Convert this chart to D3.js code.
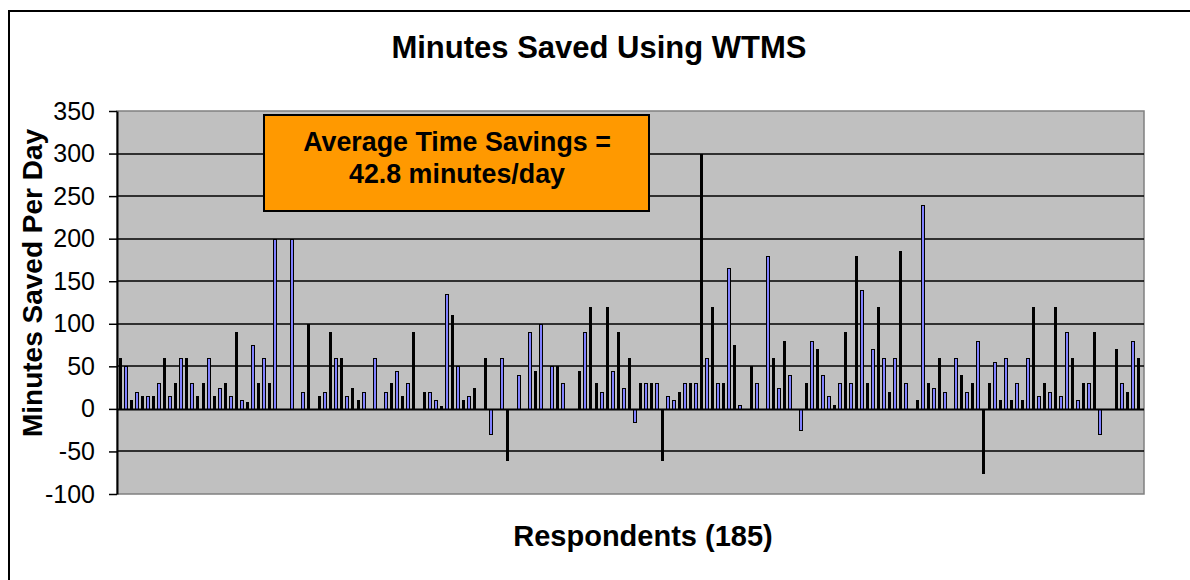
<!DOCTYPE html>
<html>
<head>
<meta charset="utf-8">
<script src="https://cdn.jsdelivr.net/npm/d3@7/dist/d3.min.js"></script>
<style>
  html, body { margin: 0; padding: 0; background: #fff; }
  svg { display: block; font-family: "Liberation Sans", Arial, sans-serif; }
</style>
</head>
<body>
<svg id="chart" width="1190" height="580"></svg>
<script>
// ---- data ----
const chartTitle = "Minutes Saved Using WTMS";
const yAxisTitle = "Minutes Saved Per Day";
const xAxisTitle = "Respondents (185)";
const noteLines = ["Average Time Savings =", "42.8 minutes/day"];
const yTicks = [-100, -50, 0, 50, 100, 150, 200, 250, 300, 350];
const minutesSaved = [
  60, 50, 10, 20, 15, 15, 15, 30, 60, 15,
  30, 60, 60, 30, 15, 30, 60, 15, 25, 30,
  15, 90, 10, 8, 75, 30, 60, 30, 200, 0,
  0, 200, 0, 20, 100, 0, 15, 20, 90, 60,
  60, 15, 25, 10, 20, 0, 60, 0, 20, 30,
  45, 15, 30, 90, 0, 20, 20, 10, 3, 135,
  110, 50, 10, 15, 25, 0, 60, -30, 0, 60,
  -60, 0, 40, 0, 90, 45, 100, 0, 50, 50,
  30, 0, 0, 45, 90, 120, 30, 20, 120, 45,
  90, 25, 60, -15, 30, 30, 30, 30, -60, 15,
  10, 20, 30, 30, 30, 300, 60, 120, 30, 30,
  165, 75, 5, 0, 50, 30, 0, 180, 60, 25,
  80, 40, 0, -25, 30, 80, 70, 40, 15, 5,
  30, 90, 30, 180, 140, 30, 70, 120, 60, 20,
  60, 185, 30, 0, 10, 240, 30, 25, 60, 20,
  0, 60, 40, 20, 30, 80, -75, 30, 55, 10,
  60, 10, 30, 10, 60, 120, 15, 30, 20, 120,
  15, 90, 60, 10, 30, 30, 90, -30, 0, 0,
  70, 30, 20, 80, 60
];
const respondents = minutesSaved.map((_, i) => i + 1);

// ---- layout ----
const plot = { left: 117, right: 1144, top: 111, bottom: 494 };
const svg = d3.select("#chart");
const FONT = "'Liberation Sans', Arial, sans-serif";

// outer frame
svg.append("rect").attr("x", 9).attr("y", 11).attr("width", 1200).attr("height", 600)
  .attr("fill", "#fff").attr("stroke", "#000").attr("stroke-width", 2);

const x = d3.scaleBand().domain(respondents)
  .range([plot.left, plot.right - 2.023]).paddingInner(0.36769).paddingOuter(0.27101);
const y = d3.scaleLinear().domain([-100, 350]).range([plot.bottom, plot.top]);

// plot area
svg.append("rect").attr("x", plot.left).attr("y", plot.top)
  .attr("width", plot.right - plot.left).attr("height", plot.bottom - plot.top)
  .attr("fill", "#c0c0c0").attr("stroke", "#808080").attr("stroke-width", 1.5);

// gridlines
svg.append("g").selectAll("line")
  .data(yTicks.filter(t => t !== -100 && t !== 350 && t !== 0))
  .join("line")
  .attr("x1", plot.left).attr("x2", plot.right)
  .attr("y1", d => Math.round(y(d))).attr("y2", d => Math.round(y(d)))
  .attr("stroke", "#000").attr("stroke-width", 1.6);

// bars
const bw = x.bandwidth();
const barData = minutesSaved.map((v, i) => ({ r: respondents[i], v })).filter(d => d.v !== 0);
const bars = svg.append("g").attr("shape-rendering", "crispEdges");
barData.forEach(d => {
  const x0 = Math.round(x(d.r));
  const x1 = Math.round(x(d.r) + bw);
  const w = Math.max(2, x1 - x0);
  const yTop = Math.round(y(Math.max(0, d.v)));
  const yBot = Math.round(y(Math.min(0, d.v)));
  // black outline
  bars.append("rect").attr("x", x0).attr("width", w)
    .attr("y", yTop).attr("height", Math.max(1, yBot - yTop + 1))
    .attr("fill", "#000");
  // blue fill inside outline (only visible when the bar is wide enough)
  if (w >= 4 && yBot - yTop > 2) {
    bars.append("rect").attr("x", x0 + 1).attr("width", w - 2)
      .attr("y", yTop + 1).attr("height", yBot - yTop - 1)
      .attr("fill", "#8080ff");
  }
});

// zero axis line
svg.append("line").attr("x1", plot.left).attr("x2", plot.right)
  .attr("y1", Math.round(y(0)) + 0.5).attr("y2", Math.round(y(0)) + 0.5)
  .attr("stroke", "#000").attr("stroke-width", 2);

// y axis
const yAxis = d3.axisLeft(y).tickValues(yTicks).tickFormat(d => String(d))
  .tickSize(8).tickPadding(14).tickSizeOuter(0);
const gy = svg.append("g").attr("transform", `translate(${plot.left},0)`).call(yAxis);
gy.select(".domain").attr("stroke", "#000").attr("stroke-width", 2);
gy.selectAll(".tick line").attr("stroke", "#000").attr("stroke-width", 1.5);
gy.selectAll(".tick text").attr("font-size", 25).attr("fill", "#000").attr("font-family", FONT);

// titles
svg.append("text").attr("x", 599).attr("y", 58).attr("text-anchor", "middle")
  .attr("font-size", 31).attr("font-weight", "bold").text(chartTitle);
svg.append("text").attr("transform", "translate(42,283) rotate(-90)")
  .attr("text-anchor", "middle").attr("font-size", 28).attr("font-weight", "bold").text(yAxisTitle);
svg.append("text").attr("x", 643).attr("y", 546).attr("text-anchor", "middle")
  .attr("font-size", 29).attr("font-weight", "bold").text(xAxisTitle);

// annotation box
svg.append("rect").attr("x", 264).attr("y", 115).attr("width", 385).attr("height", 96)
  .attr("fill", "#ff9900").attr("stroke", "#000").attr("stroke-width", 2);
svg.append("g").selectAll("text").data(noteLines).join("text")
  .attr("x", 457).attr("y", (d, i) => 151 + i * 32)
  .attr("text-anchor", "middle").attr("font-size", 26.8).attr("font-weight", "bold")
  .text(d => d);
</script>
</body>
</html>
